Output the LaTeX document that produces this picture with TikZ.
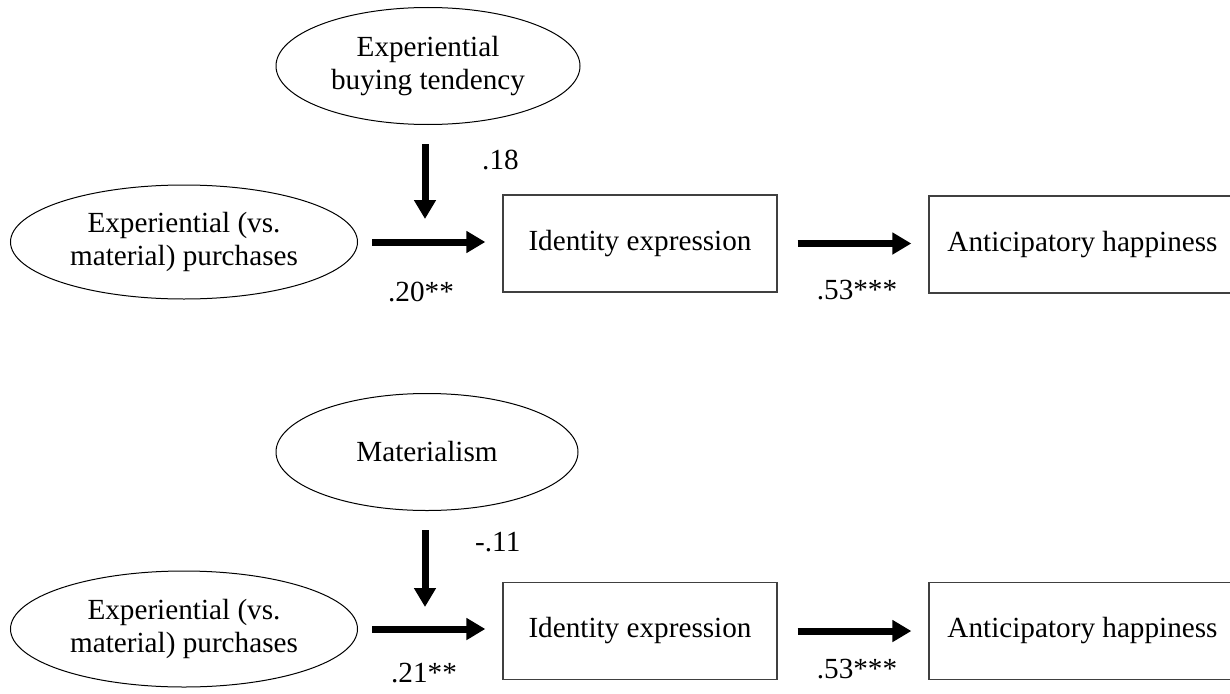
\documentclass[tikz,border=0pt]{standalone}
\usepackage{fontspec}
\setmainfont{Liberation Serif}
\usetikzlibrary{arrows.meta,shapes.geometric}
\begin{document}
\begin{tikzpicture}[x=1pt,y=-1pt,
  every node/.style={font=\fontsize{29.2}{33}\selectfont},
  oval/.style={ellipse, draw=black, line width=1pt, inner sep=0pt, align=center},
  box/.style={rectangle, draw=black!75, line width=1.3pt, inner sep=0pt, minimum height=97pt, align=center},
  bigarrow/.style={line width=7pt, -{Triangle[length=19pt,width=21pt]}},
  lbl/.style={inner sep=0pt}
]
\useasboundingbox (0,0) rectangle (1230,693);
\clip (0,0) rectangle (1230,693);
\fill[white] (0,0) rectangle (1230,693);

% ---------- top model ----------
\node[oval, minimum width=304pt, minimum height=117pt] (mod1) at (428,66) {Experiential\\buying tendency};
\node[oval, minimum width=347pt, minimum height=114pt] (purch1) at (184,242) {Experiential (vs.\\material) purchases};
\node[box, minimum width=274pt] (id1) at (640,243.5) {Identity expression};
\node[box, minimum width=307pt] (ant1) at (1082.5,244.5) {Anticipatory happiness};
\coordinate (v1) at (425,219);

\draw[bigarrow, shorten <=19pt] (mod1.south -| v1) -- (v1);
\draw[bigarrow, shorten <=14pt, shorten >=17pt] (purch1.east) -- (purch1.east -| id1.west);
\draw[bigarrow, shorten <=20pt, shorten >=17pt] (id1.east) -- (id1.east -| ant1.west);

\node[lbl, anchor=west] (l18) at (482,160) {.18};
\node[lbl] (l20) at (421,292) {.20**};
\node[lbl] (l53a) at (857,290) {.53***};

% ---------- bottom model ----------
\node[oval, minimum width=302pt, minimum height=117pt] (mod2) at (427,452) {Materialism};
\node[oval, minimum width=347pt, minimum height=116pt] (purch2) at (184,629) {Experiential (vs.\\material) purchases};
\node[box, minimum width=274pt] (id2) at (640,631) {Identity expression};
\node[box, minimum width=307pt] (ant2) at (1082.5,631) {Anticipatory happiness};
\coordinate (v2) at (425,607);

\draw[bigarrow, shorten <=19pt] (mod2.south -| v2) -- (v2);
\draw[bigarrow, shorten <=14pt, shorten >=17pt] (purch2.east) -- (purch2.east -| id2.west);
\draw[bigarrow, shorten <=20pt, shorten >=17pt] (id2.east) -- (id2.east -| ant2.west);

\node[lbl, anchor=west] (l11) at (475,542) {-.11};
\node[lbl] (l21) at (424,673) {.21**};
\node[lbl] (l53b) at (857,669) {.53***};
\end{tikzpicture}
\end{document}
